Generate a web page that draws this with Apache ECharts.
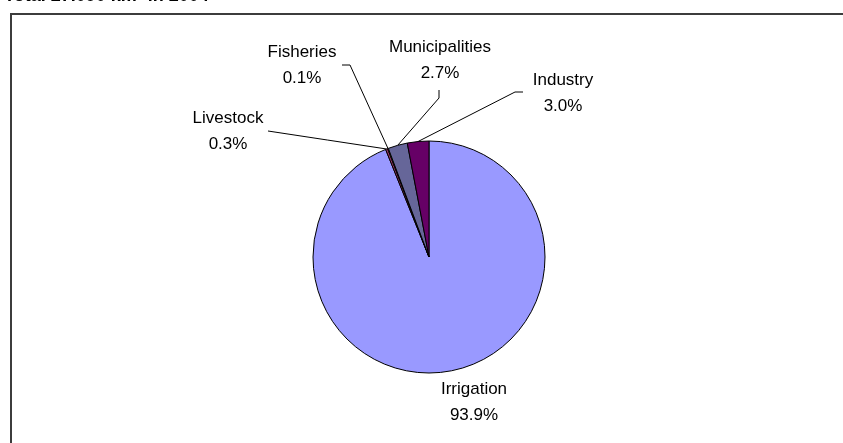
<!DOCTYPE html>
<html>
<head>
<meta charset="utf-8">
<script src="https://cdn.jsdelivr.net/npm/echarts@6/dist/echarts.min.js"></script>
<style>
html,body{margin:0;padding:0;background:#fff;}
#chart{width:843px;height:443px;}
</style>
</head>
<body>
<div id="chart"></div>
<script>
// ---- data ----
var categories = ['Irrigation', 'Livestock', 'Fisheries', 'Municipalities', 'Industry'];
var values = [93.9, 0.3, 0.1, 2.7, 3.0];
var sliceColors = ['#9999FF', '#993366', '#FFFFCC', '#666699', '#660066'];
var titleText = 'Total 27.090 km\u00B3 in 2004';

// ---- label layout (positions of label blocks and leader elbows) ----
var labelPos = {
  'Irrigation':     {x: 474, y: 402, elbow: null, end: null},
  'Livestock':      {x: 228, y: 131, elbow: null, end: [268, 131]},
  'Fisheries':      {x: 302, y: 65,  elbow: [350, 65], end: [342, 65]},
  'Municipalities': {x: 440, y: 60,  elbow: [439, 98], end: [439, 90]},
  'Industry':       {x: 563, y: 93,  elbow: [515, 92], end: [523, 92]}
};

var cx = 429, cy = 257, R = 116;
var total = values.reduce(function (a, b) { return a + b; }, 0);

function edgePoint(idx) {
  var before = 0;
  for (var i = 0; i < idx; i++) before += values[i];
  var mid = (before + values[idx] / 2) / total;
  var ang = mid * Math.PI * 2; // clockwise from top
  return [cx + R * Math.sin(ang), cy - R * Math.cos(ang)];
}

var chart = echarts.init(document.getElementById('chart'), null, {renderer: 'canvas'});

var option = {
  backgroundColor: '#ffffff',
  animation: false,
  graphic: [
    {
      type: 'rect',
      shape: {x: 11, y: 14, width: 900, height: 500},
      style: {fill: 'none', stroke: '#3c3c3c', lineWidth: 2},
      silent: true
    },
    {
      type: 'text',
      x: 4, y: 5,
      style: {
        text: titleText,
        font: 'bold 18px "Liberation Sans", Arial, sans-serif',
        fill: '#000',
        verticalAlign: 'bottom',
        align: 'left'
      },
      silent: true
    }
  ],
  series: [{
    type: 'pie',
    center: [cx, cy],
    radius: R,
    startAngle: 90,
    clockwise: true,
    avoidLabelOverlap: false,
    itemStyle: {borderColor: '#000', borderWidth: 1},
    label: {
      show: true,
      position: 'outside',
      formatter: function (p) { return p.name + '\n' + p.value.toFixed(1) + '%'; },
      fontFamily: '"Liberation Sans", Arial, sans-serif',
      fontSize: 17,
      lineHeight: 26,
      color: '#000',
      align: 'center'
    },
    labelLine: {show: true, lineStyle: {color: '#000', width: 1}},
    labelLayout: function (params) {
      var name = categories[params.dataIndex];
      var lp = labelPos[name];
      var res = {x: lp.x, y: lp.y, align: 'center', verticalAlign: 'middle'};
      if (lp.end) {
        var start = (params.labelLinePoints && params.labelLinePoints[0]) || edgePoint(params.dataIndex);
        var elbow = lp.elbow || [(start[0] + lp.end[0]) / 2, (start[1] + lp.end[1]) / 2];
        res.labelLinePoints = [start, elbow, lp.end];
      }
      return res;
    },
    data: categories.map(function (c, i) {
      var d = {name: c, value: values[i], itemStyle: {color: sliceColors[i]}};
      if (c === 'Irrigation') d.labelLine = {show: false};
      return d;
    })
  }]
};
chart.setOption(option);
</script>
</body>
</html>
